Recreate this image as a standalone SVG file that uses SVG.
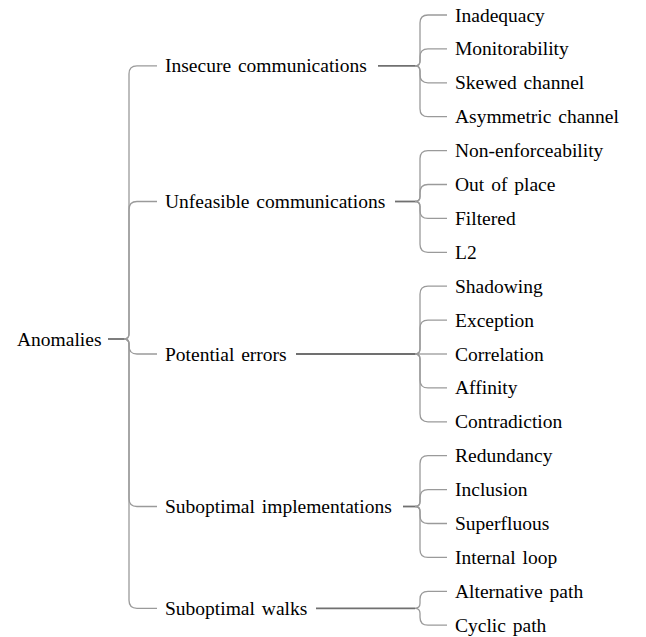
<svg xmlns="http://www.w3.org/2000/svg" width="646" height="637" viewBox="0 0 646 637">
  <style>
    .lbl { font-family: 'Liberation Serif', 'Times New Roman', Times, serif; font-size: 19.5px; fill: #000; word-spacing: 2px; }
    .branch { fill: none; stroke: #9a9a9a; stroke-width: 1.3; }
    .stub { fill: none; stroke: #707070; stroke-width: 1.8; }
  </style>
  <rect width="646" height="637" fill="#fff"/>

  <g id="connectors">
    <!-- root brace -->
    <path class="stub" d="M108,339 H124"/>
    <path class="branch" d="M124,339 Q129,339 129,334 V73.9 Q129,65.9 137,65.9 H157"/>
    <path class="branch" d="M124,339 Q129,339 129,334 V209.5 Q129,201.5 137,201.5 H157"/>
    <path class="branch" d="M124,339 Q129,339 129,344 V346 Q129,354 137,354 H157"/>
    <path class="branch" d="M124,339 Q129,339 129,344 V498.5 Q129,506.5 137,506.5 H157"/>
    <path class="branch" d="M124,339 Q129,339 129,344 V600.3 Q129,608.3 137,608.3 H157"/>

    <!-- insecure communications -->
    <path class="stub" d="M378,65.9 H415"/>
    <path class="branch" d="M415,65.9 Q420,65.9 420,60.9 V23 Q420,15 428,15 H447"/>
    <path class="branch" d="M415,65.9 Q420,65.9 420,60.9 V56.9 Q420,48.9 428,48.9 H447"/>
    <path class="branch" d="M415,65.9 Q420,65.9 420,70.9 V74.8 Q420,82.8 428,82.8 H447"/>
    <path class="branch" d="M415,65.9 Q420,65.9 420,70.9 V108.7 Q420,116.7 428,116.7 H447"/>

    <!-- unfeasible communications -->
    <path class="stub" d="M395,201.5 H415"/>
    <path class="branch" d="M415,201.5 Q420,201.5 420,196.5 V158.6 Q420,150.6 428,150.6 H447"/>
    <path class="branch" d="M415,201.5 Q420,201.5 420,196.5 V192.5 Q420,184.5 428,184.5 H447"/>
    <path class="branch" d="M415,201.5 Q420,201.5 420,206.5 V210.4 Q420,218.4 428,218.4 H447"/>
    <path class="branch" d="M415,201.5 Q420,201.5 420,206.5 V244.3 Q420,252.3 428,252.3 H447"/>

    <!-- potential errors -->
    <path class="stub" d="M296,354 H415"/>
    <path class="branch" d="M415,354 Q420,354 420,349 V294.2 Q420,286.2 428,286.2 H447"/>
    <path class="branch" d="M415,354 Q420,354 420,349 V328.1 Q420,320.1 428,320.1 H447"/>
    <path class="branch" d="M415,354 H447"/>
    <path class="branch" d="M415,354 Q420,354 420,359 V379.9 Q420,387.9 428,387.9 H447"/>
    <path class="branch" d="M415,354 Q420,354 420,359 V413.8 Q420,421.8 428,421.8 H447"/>

    <!-- suboptimal implementations -->
    <path class="stub" d="M403,506.5 H415"/>
    <path class="branch" d="M415,506.5 Q420,506.5 420,501.5 V463.7 Q420,455.7 428,455.7 H447"/>
    <path class="branch" d="M415,506.5 Q420,506.5 420,501.5 V497.6 Q420,489.6 428,489.6 H447"/>
    <path class="branch" d="M415,506.5 Q420,506.5 420,511.5 V515.5 Q420,523.5 428,523.5 H447"/>
    <path class="branch" d="M415,506.5 Q420,506.5 420,511.5 V549.4 Q420,557.4 428,557.4 H447"/>

    <!-- suboptimal walks -->
    <path class="stub" d="M316,608.3 H415"/>
    <path class="branch" d="M415,608.3 Q420,608.3 420,603.3 V599.3 Q420,591.3 428,591.3 H447"/>
    <path class="branch" d="M415,608.3 Q420,608.3 420,613.3 V617.2 Q420,625.2 428,625.2 H447"/>
  </g>

  <g id="anomalies"><text class="lbl" x="17" y="345.5">Anomalies</text></g>

  <g id="insecure-communications"><text class="lbl" x="165" y="72.4">Insecure communications</text></g>
  <g id="unfeasible-communications"><text class="lbl" x="165" y="208">Unfeasible communications</text></g>
  <g id="potential-errors"><text class="lbl" x="165" y="360.5">Potential errors</text></g>
  <g id="suboptimal-implementations"><text class="lbl" x="165" y="513">Suboptimal implementations</text></g>
  <g id="suboptimal-walks"><text class="lbl" x="165" y="614.8">Suboptimal walks</text></g>

  <g id="inadequacy"><text class="lbl" x="455" y="21.5">Inadequacy</text></g>
  <g id="monitorability"><text class="lbl" x="455" y="55.4">Monitorability</text></g>
  <g id="skewed-channel"><text class="lbl" x="455" y="89.3">Skewed channel</text></g>
  <g id="asymmetric-channel"><text class="lbl" x="455" y="123.2">Asymmetric channel</text></g>
  <g id="non-enforceability"><text class="lbl" x="455" y="157.1">Non-enforceability</text></g>
  <g id="out-of-place"><text class="lbl" x="455" y="191">Out of place</text></g>
  <g id="filtered"><text class="lbl" x="455" y="224.9">Filtered</text></g>
  <g id="l2"><text class="lbl" x="455" y="258.8">L2</text></g>
  <g id="shadowing"><text class="lbl" x="455" y="292.7">Shadowing</text></g>
  <g id="exception"><text class="lbl" x="455" y="326.6">Exception</text></g>
  <g id="correlation"><text class="lbl" x="455" y="360.5">Correlation</text></g>
  <g id="affinity"><text class="lbl" x="455" y="394.4">Affinity</text></g>
  <g id="contradiction"><text class="lbl" x="455" y="428.3">Contradiction</text></g>
  <g id="redundancy"><text class="lbl" x="455" y="462.2">Redundancy</text></g>
  <g id="inclusion"><text class="lbl" x="455" y="496.1">Inclusion</text></g>
  <g id="superfluous"><text class="lbl" x="455" y="530">Superfluous</text></g>
  <g id="internal-loop"><text class="lbl" x="455" y="563.9">Internal loop</text></g>
  <g id="alternative-path"><text class="lbl" x="455" y="597.8">Alternative path</text></g>
  <g id="cyclic-path"><text class="lbl" x="455" y="631.7">Cyclic path</text></g>
</svg>
